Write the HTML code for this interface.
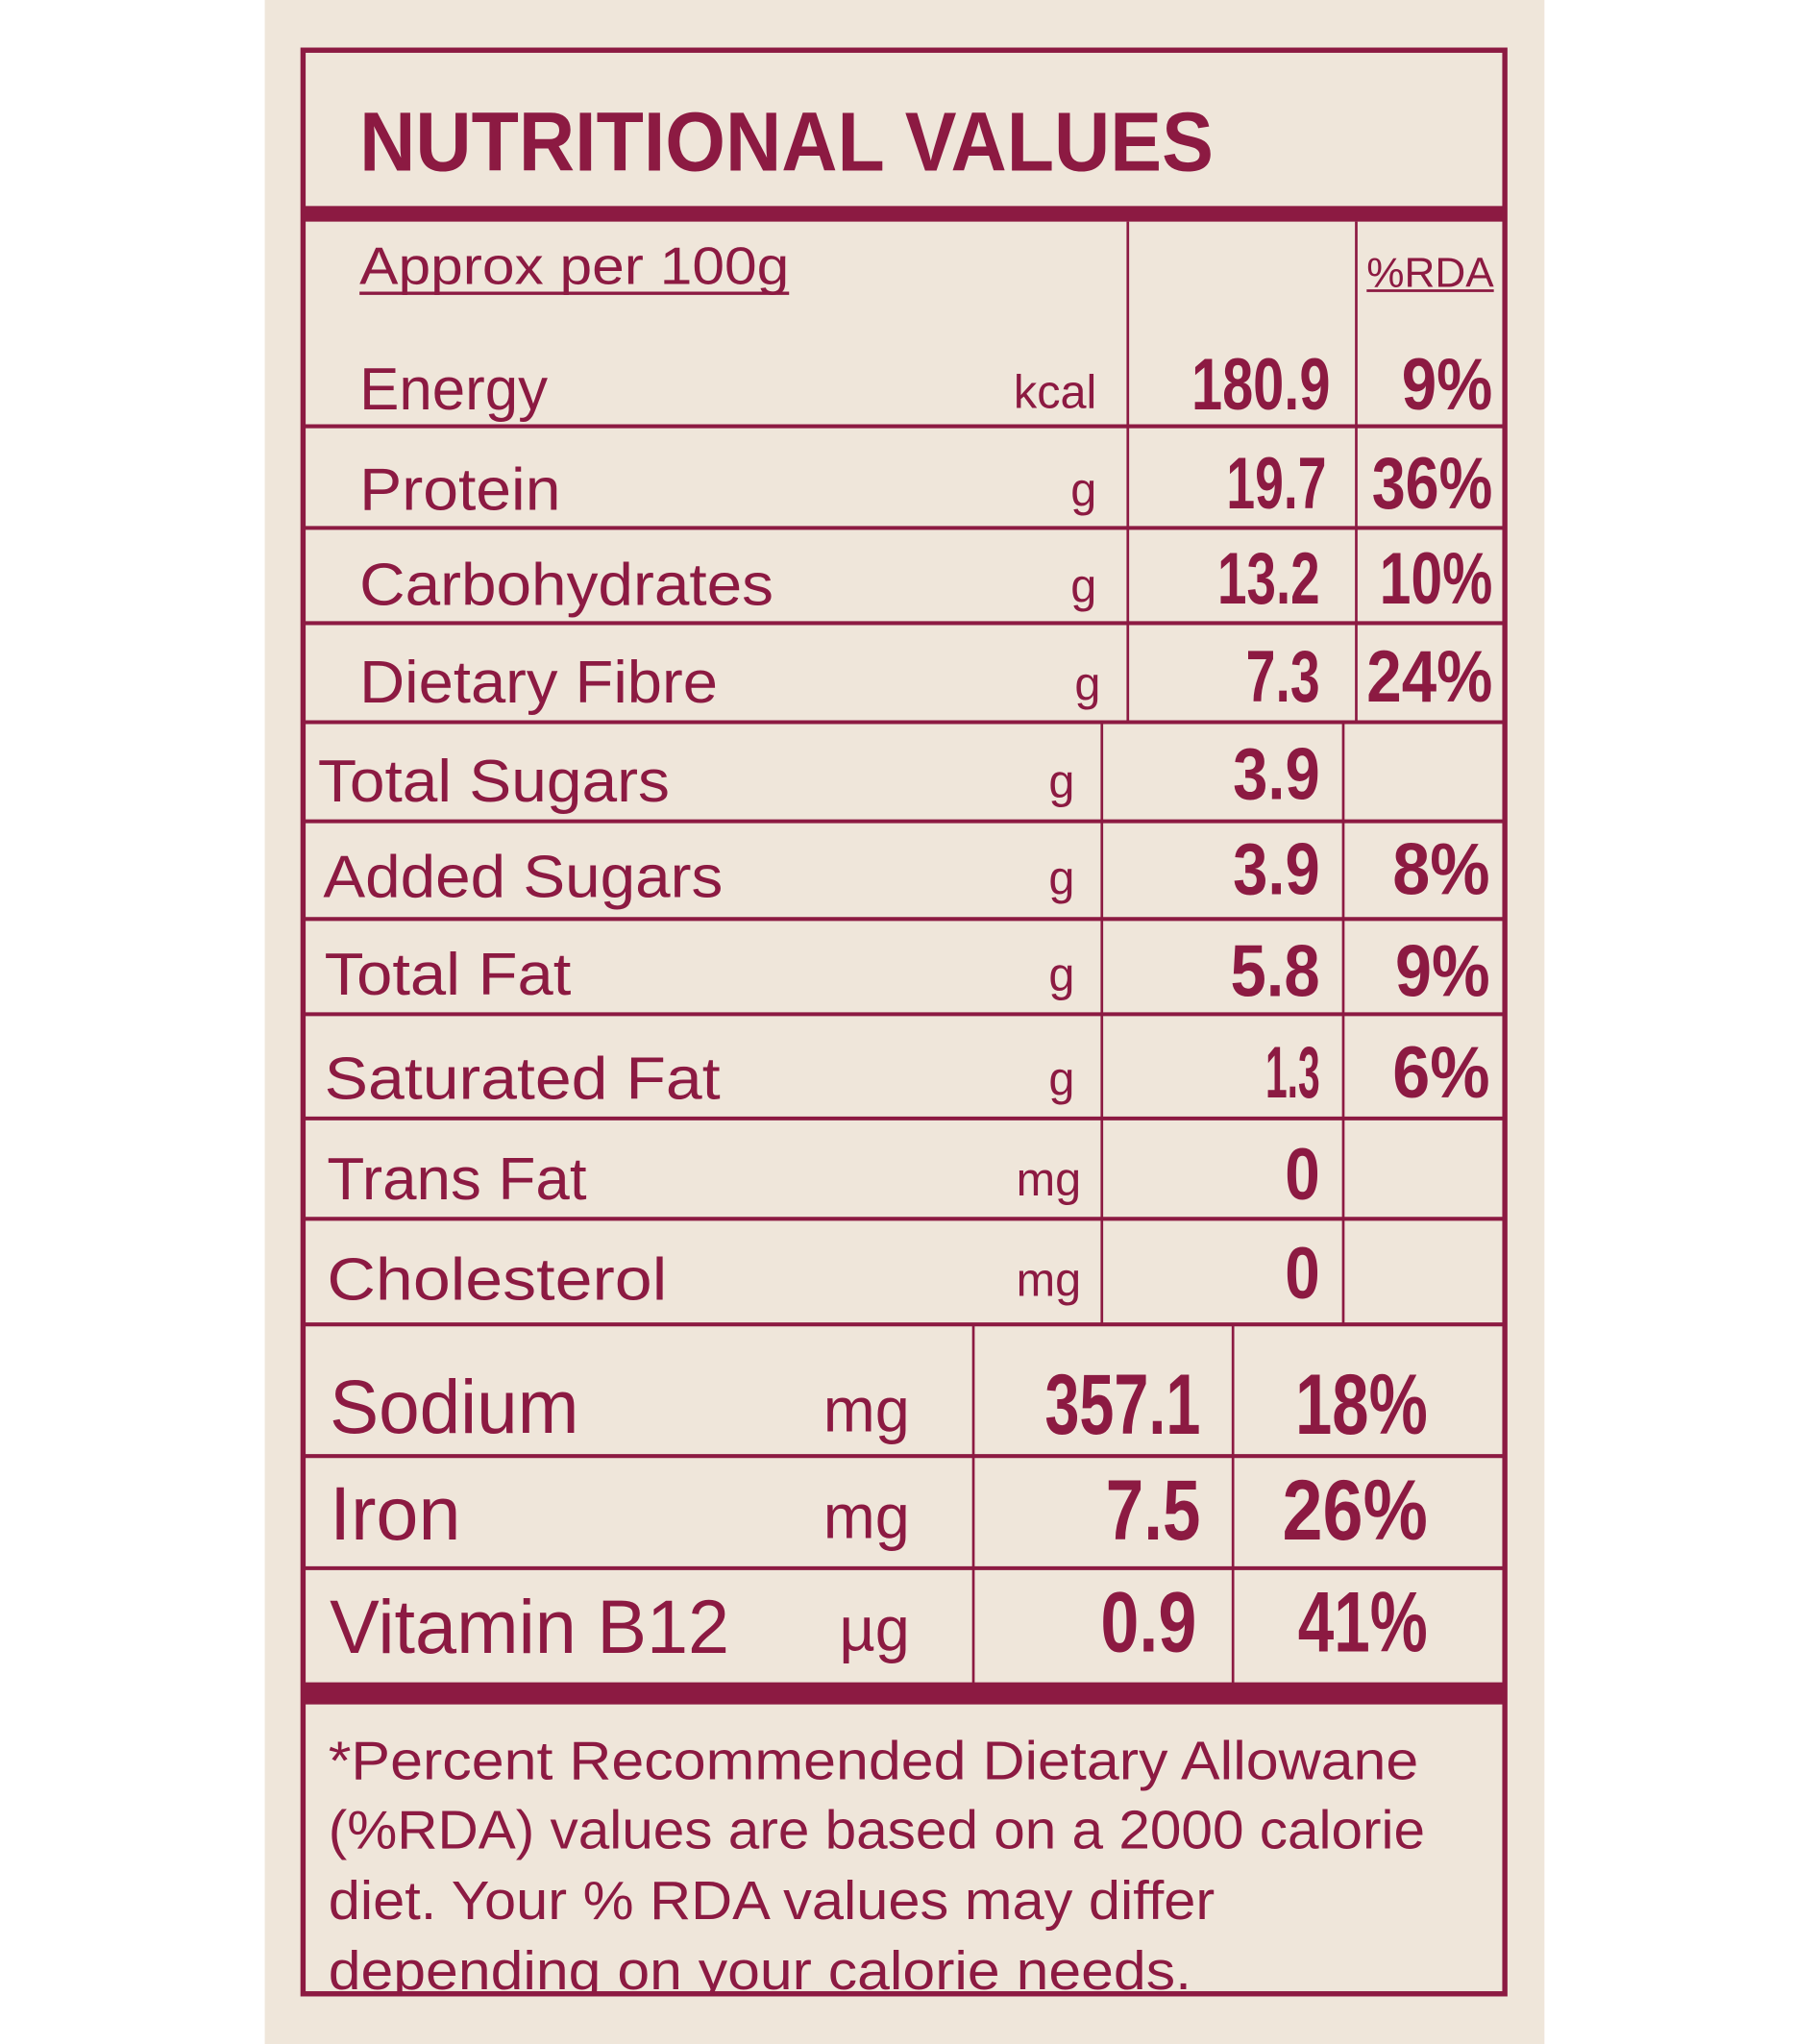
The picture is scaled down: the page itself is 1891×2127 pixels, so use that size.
<!DOCTYPE html>
<html><head><meta charset="utf-8"><style>
html,body{margin:0;padding:0;background:#fff;}
svg{display:block;}
text{font-family:"Liberation Sans",sans-serif;fill:#8c1a42;}
.b{font-weight:bold;}
</style></head><body>
<svg width="1891" height="2127" viewBox="0 0 1400 1568" preserveAspectRatio="none" xmlns="http://www.w3.org/2000/svg">
<rect x="0" y="0" width="1400" height="1568" fill="#fff"/>
<rect x="204" y="0" width="986" height="1568" fill="#efe6da"/>
<defs><clipPath id="c"><rect x="234" y="39" width="925" height="1490"/></clipPath></defs>
<g stroke="#8c1a42" fill="none">
<rect x="233.5" y="38.5" width="926" height="1491" stroke-width="4"/>
<line x1="234" x2="1160" y1="164" y2="164" stroke-width="12"/>
<line x1="234" x2="1160" y1="1299" y2="1299" stroke-width="17"/>
<g stroke-width="3">
<line x1="234" x2="1160" y1="327" y2="327"/>
<line x1="234" x2="1160" y1="405" y2="405"/>
<line x1="234" x2="1160" y1="478" y2="478"/>
<line x1="234" x2="1160" y1="554" y2="554"/>
<line x1="234" x2="1160" y1="630" y2="630"/>
<line x1="234" x2="1160" y1="705" y2="705"/>
<line x1="234" x2="1160" y1="778" y2="778"/>
<line x1="234" x2="1160" y1="858" y2="858"/>
<line x1="234" x2="1160" y1="935" y2="935"/>
<line x1="234" x2="1160" y1="1016" y2="1016"/>
<line x1="234" x2="1160" y1="1117" y2="1117"/>
<line x1="234" x2="1160" y1="1203" y2="1203"/>
</g>
<g stroke-width="2">
<line x1="869" x2="869" y1="170" y2="554"/>
<line x1="1045" x2="1045" y1="170" y2="554"/>
<line x1="849" x2="849" y1="554" y2="1016"/>
<line x1="1035" x2="1035" y1="554" y2="1016"/>
<line x1="750" x2="750" y1="1016" y2="1291"/>
<line x1="950" x2="950" y1="1016" y2="1291"/>
</g>
<line x1="277" x2="608" y1="225" y2="225" stroke-width="2.5"/>
<line x1="1053" x2="1151" y1="223" y2="223" stroke-width="2"/>
</g>
<text class="b" x="277" y="131" font-size="64" textLength="658" lengthAdjust="spacingAndGlyphs">NUTRITIONAL VALUES</text>
<text x="277" y="218" font-size="40" textLength="331" lengthAdjust="spacingAndGlyphs">Approx per 100g</text>
<text x="1053" y="220" font-size="32" textLength="98" lengthAdjust="spacingAndGlyphs">%RDA</text>

<g font-size="46">
<text x="277" y="314" textLength="145" lengthAdjust="spacingAndGlyphs">Energy</text>
<text x="277" y="391" textLength="155" lengthAdjust="spacingAndGlyphs">Protein</text>
<text x="277" y="464" textLength="319" lengthAdjust="spacingAndGlyphs">Carbohydrates</text>
<text x="277" y="539" textLength="276" lengthAdjust="spacingAndGlyphs">Dietary Fibre</text>
<text x="245" y="615" textLength="271" lengthAdjust="spacingAndGlyphs">Total Sugars</text>
<text x="249" y="688" textLength="308" lengthAdjust="spacingAndGlyphs">Added Sugars</text>
<text x="250" y="763" textLength="190" lengthAdjust="spacingAndGlyphs">Total Fat</text>
<text x="250" y="843" textLength="305" lengthAdjust="spacingAndGlyphs">Saturated Fat</text>
<text x="252" y="920" textLength="200" lengthAdjust="spacingAndGlyphs">Trans Fat</text>
<text x="252" y="997" textLength="262" lengthAdjust="spacingAndGlyphs">Cholesterol</text>
</g>
<g font-size="58">
<text x="254" y="1099" textLength="192" lengthAdjust="spacingAndGlyphs">Sodium</text>
<text x="254" y="1181" textLength="101" lengthAdjust="spacingAndGlyphs">Iron</text>
<text x="254" y="1268" textLength="308" lengthAdjust="spacingAndGlyphs">Vitamin B12</text>
</g>
<g font-size="36" text-anchor="end">
<text x="845" y="313">kcal</text>
<text x="845" y="388">g</text>
<text x="845" y="462">g</text>
<text x="848" y="537">g</text>
<text x="828" y="612">g</text>
<text x="828" y="686">g</text>
<text x="828" y="760">g</text>
<text x="828" y="840">g</text>
<text x="833" y="917">mg</text>
<text x="833" y="994">mg</text>
</g>
<g font-size="48" text-anchor="end">
<text x="701" y="1098">mg</text>
<text x="701" y="1180">mg</text>
<text x="701" y="1266">µg</text>
</g>
<g class="b" font-size="56">
<text class="b" x="918" y="314" textLength="107" lengthAdjust="spacingAndGlyphs">180.9</text>
<text class="b" x="1080" y="314" textLength="70" lengthAdjust="spacingAndGlyphs">9%</text>
<text class="b" x="945" y="390" textLength="77" lengthAdjust="spacingAndGlyphs">19.7</text>
<text class="b" x="1057" y="390" textLength="93" lengthAdjust="spacingAndGlyphs">36%</text>
<text class="b" x="938" y="463" textLength="79" lengthAdjust="spacingAndGlyphs">13.2</text>
<text class="b" x="1063" y="463" textLength="87" lengthAdjust="spacingAndGlyphs">10%</text>
<text class="b" x="960" y="538" textLength="57" lengthAdjust="spacingAndGlyphs">7.3</text>
<text class="b" x="1053" y="538" textLength="97" lengthAdjust="spacingAndGlyphs">24%</text>
<text class="b" x="950" y="613" textLength="67" lengthAdjust="spacingAndGlyphs">3.9</text>
<text class="b" x="950" y="686" textLength="67" lengthAdjust="spacingAndGlyphs">3.9</text>
<text class="b" x="1073" y="686" textLength="75" lengthAdjust="spacingAndGlyphs">8%</text>
<text class="b" x="948" y="764" textLength="69" lengthAdjust="spacingAndGlyphs">5.8</text>
<text class="b" x="1075" y="764" textLength="73" lengthAdjust="spacingAndGlyphs">9%</text>
<text class="b" x="975" y="842" textLength="42" lengthAdjust="spacingAndGlyphs">1.3</text>
<text class="b" x="1073" y="842" textLength="75" lengthAdjust="spacingAndGlyphs">6%</text>
<text class="b" x="990" y="920" textLength="27" lengthAdjust="spacingAndGlyphs">0</text>
<text class="b" x="990" y="996" textLength="27" lengthAdjust="spacingAndGlyphs">0</text>
</g>
<g font-size="66">
<text class="b" x="805" y="1100" textLength="120" lengthAdjust="spacingAndGlyphs">357.1</text>
<text class="b" x="998" y="1100" textLength="102" lengthAdjust="spacingAndGlyphs">18%</text>
<text class="b" x="852" y="1181" textLength="73" lengthAdjust="spacingAndGlyphs">7.5</text>
<text class="b" x="988" y="1181" textLength="112" lengthAdjust="spacingAndGlyphs">26%</text>
<text class="b" x="848" y="1267" textLength="74" lengthAdjust="spacingAndGlyphs">0.9</text>
<text class="b" x="1000" y="1267" textLength="100" lengthAdjust="spacingAndGlyphs">41%</text>
</g>
<g font-size="42" clip-path="url(#c)">
<text x="253" y="1365" textLength="840" lengthAdjust="spacingAndGlyphs">*Percent Recommended Dietary Allowane</text>
<text x="253" y="1418" textLength="845" lengthAdjust="spacingAndGlyphs">(%RDA) values are based on a 2000 calorie</text>
<text x="253" y="1472" textLength="683" lengthAdjust="spacingAndGlyphs">diet. Your % RDA values may differ</text>
<text x="253" y="1526" textLength="665" lengthAdjust="spacingAndGlyphs">depending on your calorie needs.</text>
</g>
</svg>
</body></html>
